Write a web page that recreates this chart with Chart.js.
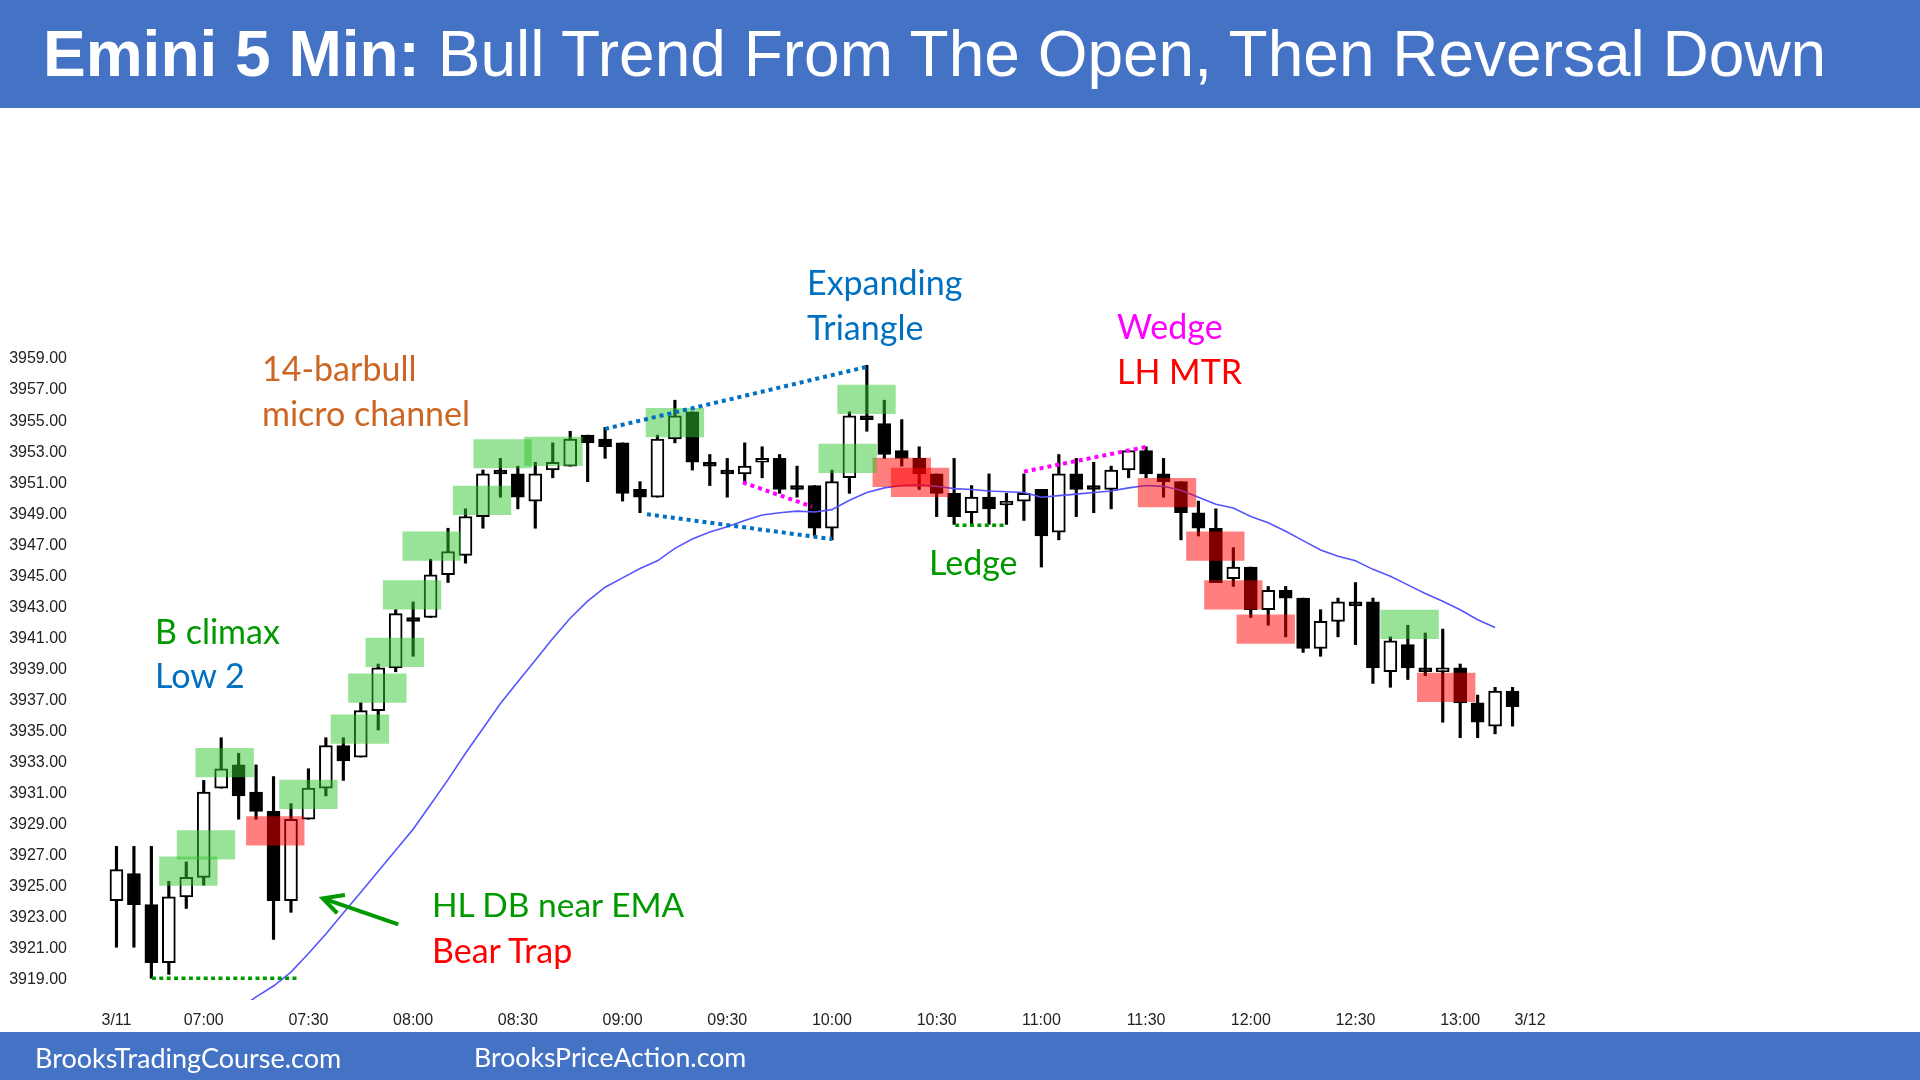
<!DOCTYPE html>
<html>
<head>
<meta charset="utf-8">
<script src="https://cdn.jsdelivr.net/npm/chart.js@4.4.1/dist/chart.umd.min.js"></script>
<style>
  html, body { margin:0; padding:0; }
  body { width:1920px; height:1080px; position:relative; overflow:hidden; background:#ffffff; font-family: Lato, "Open Sans", sans-serif; }
  .band { position:absolute; left:0; width:1920px; background:#4472C4; }
  .t { position:absolute; white-space:nowrap; line-height:1; transform:translateY(-50%); }
  .ann { font-size:34px; }
  #c { position:absolute; left:0; top:0; }
</style>
</head>
<body>
<div class="band" style="top:0;height:108px;"></div>
<div class="band" style="top:1032px;height:48px;"></div>
<canvas id="c" width="1920" height="1080"></canvas>

<div class="t" style="left:43px;top:54px;font-size:64px;color:#fff;font-family:'Liberation Sans',Arial,sans-serif;"><b>Emini 5 Min:</b> Bull Trend From The Open, Then Reversal Down</div>
<div class="t" style="left:35px;top:1057px;font-size:27px;color:#fff;">BrooksTradingCourse.com</div>
<div class="t" style="left:474px;top:1057px;font-size:26.7px;color:#fff;">BrooksPriceAction.com</div>

<div class="t ann" style="left:262px;top:368px;color:#CC6622;">14-barbull</div>
<div class="t ann" style="left:262px;top:413px;color:#CC6622;">micro channel</div>
<div class="t ann" style="left:807px;top:282px;color:#0070C0;">Expanding</div>
<div class="t ann" style="left:807px;top:327px;color:#0070C0;">Triangle</div>
<div class="t ann" style="left:1117px;top:326px;color:#FF00FF;">Wedge</div>
<div class="t ann" style="left:1117px;top:371px;color:#FF0000;">LH MTR</div>
<div class="t ann" style="left:155px;top:631px;color:#009900;">B climax</div>
<div class="t ann" style="left:155px;top:675px;color:#0070C0;">Low 2</div>
<div class="t ann" style="left:929px;top:562px;color:#009900;">Ledge</div>
<div class="t ann" style="left:432px;top:905px;color:#009900;font-size:33.5px;">HL DB near EMA</div>
<div class="t ann" style="left:432px;top:950px;color:#FF0000;">Bear Trap</div>

<script>
// ---- Data (5-minute bars, 3/11 06:35 .. 13:15) ----
const opens  = [3924,3925.75,3923.75,3920,3924.25,3925.5,3931.25,3932.75,3931,3929.75,
                3924,3929.25,3931.25,3934,3933.25,3936.25,3939,3942.25,3942.25,3945,
                3946.25,3948.75,3951.75,3951.5,3949.75,3951.75,3952,3954,3953.75,3953.5,
                3950.5,3950,3953.75,3955.5,3952.25,3951.75,3951.5,3952.25,3952.5,3950.75,
                3950.75,3948,3951.25,3955.25,3954.75,3953,3952.5,3951.5,3950.25,3949,
                3950,3949.5,3949.75,3950.5,3947.75,3951.5,3950.75,3950.5,3951.75,3953,
                3951.5,3951,3949,3948,3944.75,3945.5,3942.75,3944,3943.5,3940.25,
                3942,3943.25,3943.25,3938.75,3940.5,3939,3938.75,3939,3936.75,3935.25,
                3937.5];
const highs  = [3927.5,3927.5,3927.5,3925.25,3926.5,3931.75,3934.5,3933.5,3932.75,3932,
                3930.25,3932.5,3934.5,3934.5,3936.75,3939.25,3942.75,3943.25,3946,3948,
                3949.25,3951.75,3952.5,3952,3952.25,3953.5,3954.25,3954,3954.5,3953.5,
                3951,3954,3956.25,3955.5,3952.75,3952.5,3953.5,3953.25,3952.75,3952,
                3950.75,3951.75,3955.5,3958.5,3956.25,3955,3953.25,3951.5,3952.5,3950.75,
                3951.5,3950.25,3951.5,3950.5,3952.75,3952.5,3952.25,3952,3953,3953.25,
                3952.5,3951,3949.75,3949.25,3946.75,3945.5,3944.25,3944.25,3943.5,3942.75,
                3943.5,3944.5,3943.5,3941,3941.75,3941.25,3941.5,3939.25,3937.25,3937.75,
                3937.75];
const lows   = [3921,3921,3919,3919.25,3923.5,3925,3931.25,3929.25,3929.25,3921.5,
                3923.25,3929.25,3930.75,3931.75,3933.25,3935,3938.75,3939.75,3942.25,3944.5,
                3945.75,3948,3950,3949.25,3948,3951.25,3952,3951,3952.5,3949.75,
                3949,3950,3953.5,3951.75,3950.75,3950,3951,3951.25,3950.25,3950,
                3947.5,3947.25,3950.25,3954.25,3952.5,3952,3950.5,3948.75,3948.25,3948.25,
                3948.25,3948.25,3948.5,3945.5,3947.25,3948.75,3949,3949.25,3951.25,3951.25,
                3950,3947.25,3947.5,3944.5,3944.25,3942.25,3941.75,3941,3940,3939.75,
                3941,3940.5,3938,3937.75,3938.25,3938.5,3935.5,3934.5,3934.5,3934.75,
                3935.25];
const closes = [3926,3923.75,3920,3924.25,3925.5,3931,3932.5,3930.75,3929.75,3924,
                3929.25,3931.25,3934,3933,3936.25,3939,3942.5,3942,3945,3946.5,
                3948.75,3951.5,3951.5,3950,3951.5,3952.25,3953.75,3953.5,3953.25,3950.25,
                3950,3953.75,3955.25,3952.25,3952,3951.5,3952,3952.5,3950.5,3950.5,
                3948,3951,3955.25,3955,3952.75,3952.5,3951.5,3950.25,3948.75,3950,
                3949.25,3949.75,3950.25,3947.5,3951.5,3950.5,3950.5,3951.75,3953,3951.5,
                3951,3949,3948,3944.5,3945.5,3942.75,3944,3943.5,3940.25,3942,
                3943.25,3943,3939,3940.75,3939,3938.75,3939,3936.75,3935.5,3937.5,
                3936.5];
// 20-bar EMA, bars 7..79 (clipped at the bottom of the plot)
const emaStart = 7;
const emaValues = [3917.0,3917.8,3918.5,3919.4,3920.6,3921.85,3923.2,3924.55,3925.9,3927.25,3928.6,
                   3930.2,3931.8,3933.5,3935.1,3936.7,3938.1,3939.5,3940.9,3942.2,3943.3,
                   3944.2,3944.8,3945.4,3945.9,3946.7,3947.3,3947.75,3948.1,3948.5,3948.85,
                   3949.0,3949.1,3949.05,3949.2,3949.8,3950.3,3950.6,3950.75,3950.8,3950.7,
                   3950.55,3950.5,3950.4,3950.35,3950.3,3950.0,3950.1,3950.2,3950.3,3950.4,
                   3950.6,3950.75,3950.7,3950.45,3950.0,3949.55,3949.3,3948.75,3948.35,3947.8,
                   3947.2,3946.6,3946.2,3945.9,3945.35,3944.9,3944.35,3943.8,3943.3,3942.75,
                   3942.1,3941.6];
// highlight boxes: [bar position, centre price]
const greenBoxes = [[4.12,3925.9],[5.13,3927.6],[6.2,3932.9],[11.0,3930.85],[13.95,3935.05],
                    [14.95,3937.7],[15.95,3940.0],[16.94,3943.7],[18.06,3946.85],[20.95,3949.8],
                    [22.13,3952.8],[25.04,3952.95],[32.0,3954.8],[41.9,3952.5],[42.98,3956.3],
                    [74.1,3941.8]];
const redBoxes   = [[9.1,3928.5],[45.0,3951.6],[46.05,3950.95],[60.2,3950.3],[62.97,3946.85],
                    [64.0,3943.7],[65.86,3941.5],[76.2,3937.75]];
const boxHalf = 0.92;
// dotted guide lines: [[x1,y1],[x2,y2]]
const lowLine      = [[2.03,3919.0],[10.5,3919.0]];
const triTop       = [[28.0,3954.4],[43.0,3958.4]];
const triBottom    = [[30.4,3948.9],[41.0,3947.3]];
const wedge1       = [[35.9,3950.95],[39.85,3949.4]];
const wedge2       = [[52.0,3951.65],[59.05,3953.25]];
const ledgeLine    = [[48.06,3948.2],[51.0,3948.2]];
// arrow: shaft and open head
const arrowShaft   = [[16.15,3922.48],[11.95,3924.1]];
const arrowHead    = [[13.09,3924.37],[11.82,3924.15],[12.65,3923.19]];
// axis ticks
const yTicks = [3919,3921,3923,3925,3927,3929,3931,3933,3935,3937,3939,3941,3943,3945,3947,3949,3951,3953,3955,3957,3959];
const xTickBars   = [0,5,11,17,23,29,35,41,47,53,59,65,71,77,81];
const xTickLabels = ['3/11','07:00','07:30','08:00','08:30','09:00','09:30','10:00','10:30','11:00','11:30','12:00','12:30','13:00','3/12'];

// ---- build datasets ----
const idx = opens.map((_, i) => i);
const wickData = idx.map(i => ({x: i, y: [lows[i], highs[i]]}));
const bodyData = idx.map(i => ({x: i, y: [opens[i], closes[i]]}));
const bodyFill = idx.map(i => closes[i] >= opens[i] ? '#ffffff' : '#000000');
const emaData = emaValues.map((v, k) => ({x: emaStart + k, y: v}));
const toBox = b => ({x: b[0], y: [b[1] - boxHalf, b[1] + boxHalf]});
const toPts = a => a.map(p => ({x: p[0], y: p[1]}));

function dotted(data, color, width, dash) {
  return {type:'line', data: toPts(data), borderColor: color, borderWidth: width,
          borderDash: dash, borderCapStyle:'butt', pointRadius: 0, fill: false, order: 1};
}

const datasets = [
  {type:'bar', data: wickData, backgroundColor:'#000000', borderWidth:0, barThickness:2.5,
   stack:'s', order: 6},
  {type:'bar', data: bodyData, backgroundColor: bodyFill, borderColor:'#000000', borderWidth:2,
   borderSkipped:false, barThickness:13, stack:'s', order: 5},
  {type:'line', data: emaData, borderColor:'rgb(85,85,255)', borderWidth:1.6, pointRadius:0,
   tension:0, fill:false, order: 4},
  {type:'bar', data: greenBoxes.map(toBox), backgroundColor:'rgba(49,199,49,0.5)', borderWidth:0,
   barThickness:57.7, stack:'s', order: 3},
  {type:'bar', data: redBoxes.map(toBox), backgroundColor:'rgba(255,0,0,0.5)', borderWidth:0,
   barThickness:57.7, stack:'s', order: 3},
  dotted(lowLine, '#009900', 3.5, [4,3.4]),
  dotted(triTop, '#0070C0', 4, [4,4]),
  dotted(triBottom, '#0070C0', 4, [4,4]),
  dotted(wedge1, '#FF00FF', 4, [4,4]),
  dotted(wedge2, '#FF00FF', 4, [4,4]),
  dotted(ledgeLine, '#009900', 3.5, [4,3.4]),
  {type:'line', data: toPts(arrowShaft), borderColor:'#009900', borderWidth:4, pointRadius:0,
   borderCapStyle:'butt', order:1},
  {type:'line', data: toPts(arrowHead), borderColor:'#009900', borderWidth:4, pointRadius:0,
   borderCapStyle:'butt', borderJoinStyle:'miter', order:1}
];

new Chart(document.getElementById('c'), {
  type: 'bar',
  data: { datasets },
  options: {
    responsive: false,
    animation: false,
    devicePixelRatio: 1,
    events: [],
    layout: { padding: { top: 110, right: 360, left: 0, bottom: 0 } },
    plugins: { legend: { display: false }, tooltip: { enabled: false }, title: { display: false } },
    scales: {
      x: {
        type: 'linear', min: -0.6, max: 82.72, offset: false,
        grid: { display: false, drawTicks: false }, border: { display: false },
        afterFit: s => { s.height = 80; },
        afterBuildTicks: s => { s.ticks = xTickBars.map(v => ({value: v})); },
        ticks: { autoSkip: false, maxRotation: 0, padding: 10.5, color: '#222',
                 font: { family: 'Liberation Sans', size: 16 },
                 callback: (v, i) => xTickLabels[i] }
      },
      y: {
        type: 'linear', min: 3917.6, max: 3974.95, beginAtZero: false, stacked: false,
        grid: { display: false, drawTicks: false }, border: { display: false },
        afterFit: s => { s.width = 106; },
        afterBuildTicks: s => { s.ticks = yTicks.map(v => ({value: v})); },
        ticks: { autoSkip: false, padding: 39, labelOffset: 1.5, color: '#222',
                 font: { family: 'Liberation Sans', size: 16 },
                 callback: v => Number(v).toFixed(2) }
      }
    }
  }
});
</script>
</body>
</html>
